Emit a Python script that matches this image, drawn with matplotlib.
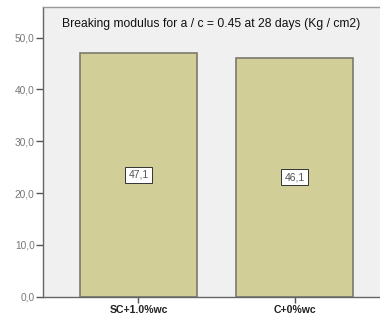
import matplotlib
matplotlib.use("Agg")
import matplotlib.pyplot as plt

categories = ["SC+1.0%wc", "C+0%wc"]
values = [47.1, 46.1]
value_labels = ["47,1", "46,1"]
yticks = [0, 10, 20, 30, 40, 50]
ytick_labels = ["0,0", "10,0", "20,0", "30,0", "40,0", "50,0"]
title = "Breaking modulus for a / c = 0.45 at 28 days (Kg / cm2)"

plt.rcParams['font.family'] = ['Liberation Sans', 'DejaVu Sans']

fig = plt.figure(figsize=(3.8, 3.16), dpi=100)
fig.patch.set_facecolor('white')
ax = fig.add_axes([43/380, (316-296.7)/316, (380-43)/380, (296.7-7)/316])
ax.set_facecolor('#F0F0F0')

x = list(range(len(categories)))
bars = ax.bar(x, values, width=0.75, color='#D2CE97', edgecolor='#7A7A6E', linewidth=1.2, zorder=2)

for xi, v, lab in zip(x, values, value_labels):
    ax.text(xi, v / 2, lab, ha='center', va='center', fontsize=7.5, color='#555555',
            bbox=dict(boxstyle='square,pad=0.3', facecolor='white', edgecolor='#333333', linewidth=0.7),
            zorder=3)

ax.set_xlim(-0.612, 1.548)
ax.set_ylim(0, 55.9)
ax.set_yticks(yticks)
ax.set_yticklabels(ytick_labels)
ax.set_xticks(x)
ax.set_xticklabels(categories, fontweight='bold')

ax.tick_params(axis='y', direction='out', length=5, width=1, color='#555555', labelcolor='#777777', labelsize=7.3, pad=1)
ax.tick_params(axis='x', direction='out', length=4, width=1, color='#555555', labelcolor='#222222', labelsize=7.6, pad=2)

for side in ['left', 'bottom']:
    ax.spines[side].set_color('#666666')
    ax.spines[side].set_linewidth(1.0)
ax.spines['top'].set_color('#999999')
ax.spines['top'].set_linewidth(1.0)
ax.spines['right'].set_visible(False)

fig.text(211.5/380, 1 - 24/316, title, ha='center', va='center', fontsize=8.75, color='#111111')

fig.savefig('out.png', dpi=100, facecolor='white')
